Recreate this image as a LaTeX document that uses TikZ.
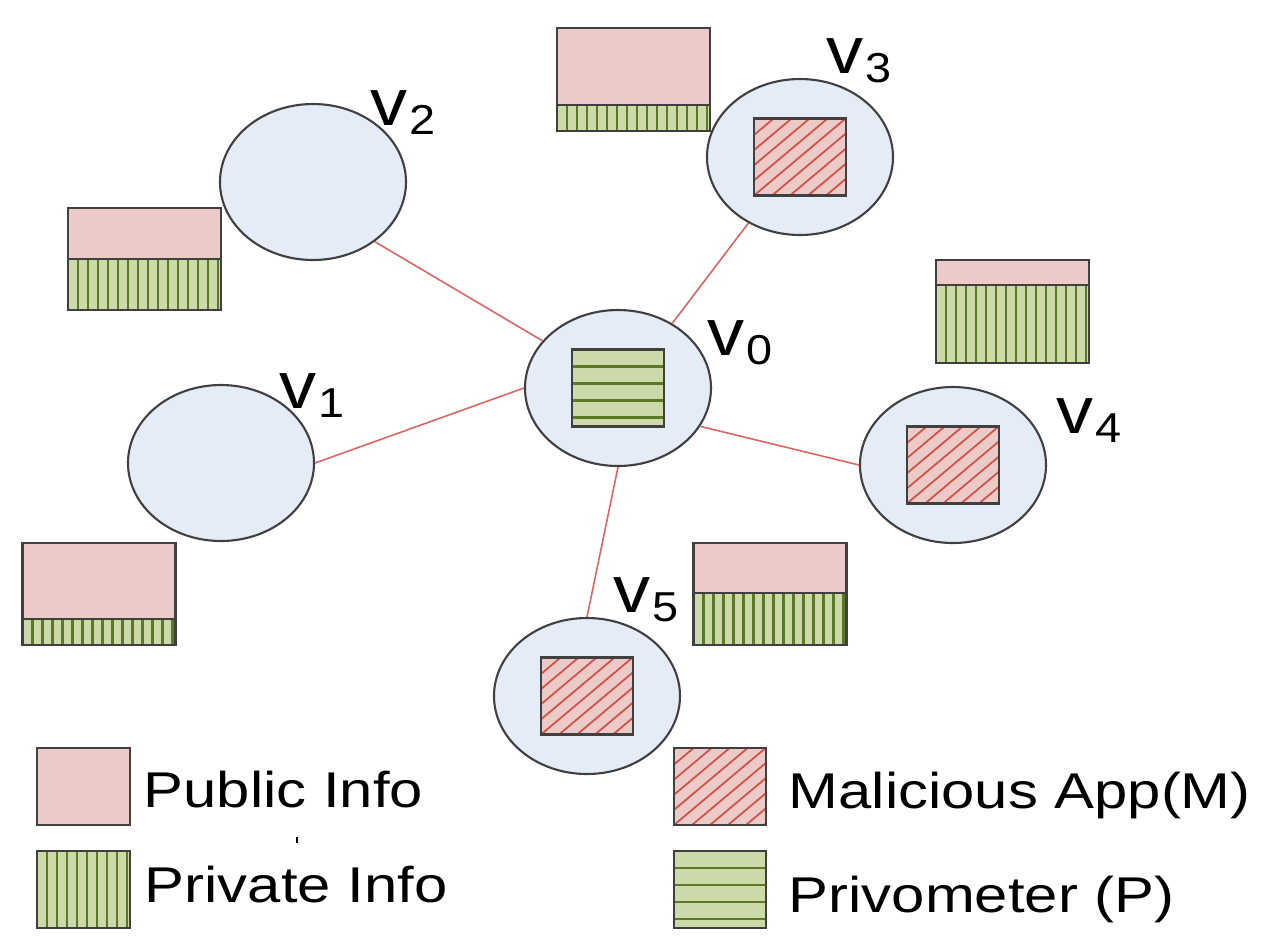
\documentclass[tikz,border=0pt]{standalone}
\usepackage{fontspec}
\setmainfont{Liberation Sans}
\usepackage{tikz}
\usetikzlibrary{shapes.geometric,calc}
\tikzset{>=latex}
\definecolor{nodeblue}{RGB}{228,236,247}
\definecolor{pubpink}{RGB}{235,202,200}
\definecolor{privgreen}{RGB}{203,218,168}
\definecolor{privline}{RGB}{90,120,40}
\definecolor{hatchred}{RGB}{210,80,70}
\definecolor{edgered}{RGB}{222,100,100}
\tikzstyle{vert}=[ellipse,draw=black!75,line width=0.6pt,fill=nodeblue,minimum width=1.86cm,minimum height=1.56cm,inner sep=0pt]
\tikzstyle{edge}=[draw=edgered,line width=0.45pt]
\tikzstyle{boxbase}=[rectangle,draw=black!75,line width=0.7pt,inner sep=0pt,outer sep=0pt]
\tikzstyle{pubpart}=[boxbase,fill=pubpink,minimum width=1.53cm]
\tikzstyle{privpart}=[boxbase,fill=privgreen,minimum width=1.53cm,path picture={
    \foreach \k in {1,...,15}
      \draw[privline,line width=0.6pt] ($(path picture bounding box.south west)+(0.1*\k,0)$) --++ (0,1);}]
\tikzstyle{malapp}=[boxbase,fill=pubpink,minimum width=0.92cm,minimum height=0.77cm,path picture={
    \foreach \s in {-0.9,-0.72,...,0.91}
      \draw[hatchred,line width=0.5pt] ($(path picture bounding box.south west)+(\s,0)$) --++ (0.952,0.8);}]
\tikzstyle{privo}=[boxbase,fill=privgreen,minimum width=0.92cm,minimum height=0.77cm,path picture={
    \foreach \k in {1,...,4}
      \draw[privline,line width=0.6pt] ($(path picture bounding box.north west)+(0,-0.17*\k)$) --++ (1,0);}]
\tikzstyle{vlabel}=[inner sep=0pt,xscale=1.12,anchor=base west]
\tikzstyle{legtext}=[inner sep=0pt,xscale=1.19,anchor=base west,font=\fontsize{14.3}{16}\selectfont]
\newcommand{\vlab}[1]{{\fontsize{18.8}{20}\selectfont v}\hspace{0.5pt}\raisebox{-2.7pt}{\fontsize{11.9}{12}\selectfont #1}}

\begin{document}
\begin{tikzpicture}

  \fill[white] (0,0) rectangle (12.66,-9.37); % background
  \useasboundingbox (0,0) rectangle (12.66,-9.37);

  % users
  \node[vert] (v0) at (6.18,-3.88) {};
  \node[vert] (v1) at (2.21,-4.63) {};
  \node[vert] (v2) at (3.13,-1.82) {};
  \node[vert] (v3) at (8.00,-1.57) {};
  \node[vert] (v4) at (9.53,-4.65) {};
  \node[vert] (v5) at (5.87,-6.96) {};

  % apps inside the nodes
  \node[privo] (p0) at (v0) {};
  \foreach \n in {3,4,5}{
    \node[malapp] (m\n) at (v\n) {};
  }

  % friendships
  \draw[edge] (v0.148) -- (v2.-44);
  \draw[edge] (v0.50) -- (v3.232);
  \draw[edge] (v0.west) -- (v1.east);
  \draw[edge] (v0.-25) -- (v4.west);
  \draw[edge] (v0.south) -- (v5.north);

  % public / private info of each user
  \foreach \nm/\x/\ytop/\hp/\hq in {b1/0.99/-5.43/0.76/0.26, b2/1.445/-2.08/0.51/0.51,
      b3/6.335/-0.28/0.77/0.26, b4/10.125/-2.60/0.25/0.78, b5/7.70/-5.43/0.50/0.52}{
    \node[pubpart,minimum height=\hp cm,anchor=north] (\nm pub) at (\x,\ytop) {};
    \node[privpart,minimum height=\hq cm,anchor=north] (\nm priv) at (\nm pub.south) {};
  }

  % labels
  \node[vlabel] (l0) at (7.07,-3.55) {\vlab{0}};
  \node[vlabel] (l1) at (2.79,-4.08) {\vlab{1}};
  \node[vlabel] (l2) at (3.70,-1.25) {\vlab{2}};
  \node[vlabel] (l3) at (8.26,-0.73) {\vlab{3}};
  \node[vlabel] (l4) at (10.56,-4.33) {\vlab{4}};
  \node[vlabel] (l5) at (6.13,-6.12) {\vlab{5}};

  % legend
  \node[pubpart,minimum width=0.93cm,minimum height=0.77cm,anchor=north west] (kpub) at (0.37,-7.48) {};
  \node[privpart,minimum width=0.93cm,minimum height=0.77cm,anchor=north west] (kpriv) at (0.37,-8.51) {};
  \node[malapp,anchor=north west] (kmal) at (6.74,-7.48) {};
  \node[privo,anchor=north west] (kprivo) at (6.74,-8.51) {};
  \node[legtext] (tpub) at (1.43,-8.07) {Public Info};
  \node[legtext] (tpriv) at (1.44,-9.02) {Private Info};
  \node[legtext] (tmal) at (7.88,-8.08) {Malicious App(M)};
  \node[legtext] (tprivo) at (7.88,-9.12) {Privometer (P)};
  \draw[line width=0.5pt] (2.97,-8.37) -- (2.97,-8.43);

\end{tikzpicture}
\end{document}
